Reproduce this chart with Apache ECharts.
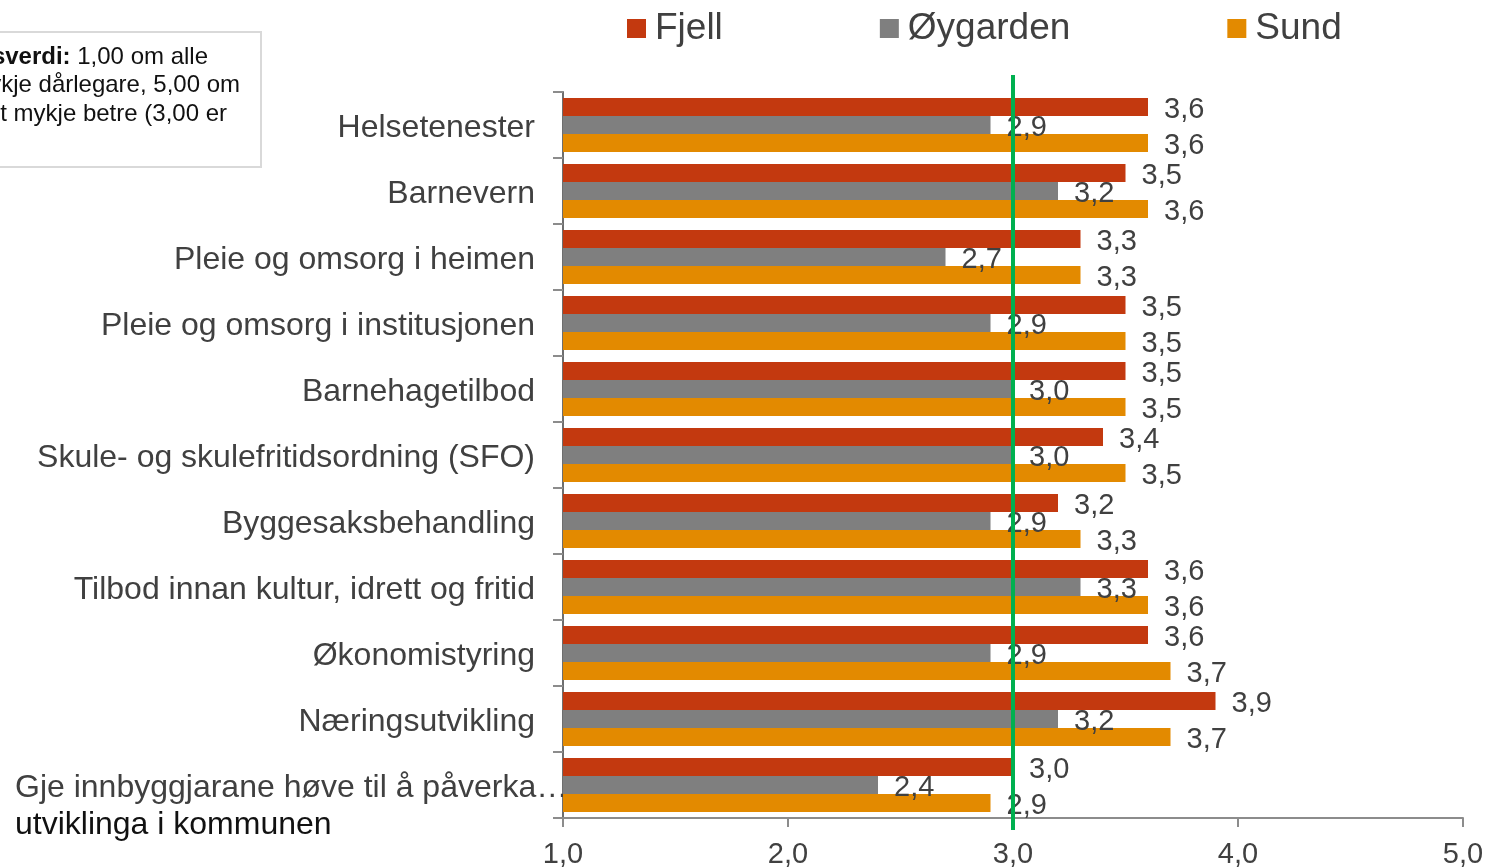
<!DOCTYPE html>
<html>
<head>
<meta charset="utf-8">
<script src="https://cdn.jsdelivr.net/npm/echarts@6/dist/echarts.min.js"></script>
<style>
html,body{margin:0;padding:0;background:#fff;}
#chart{width:1487px;height:867px;}
</style>
</head>
<body>
<div id="chart"></div>
<script>
const categories = [
  'Helsetenester',
  'Barnevern',
  'Pleie og omsorg i heimen',
  'Pleie og omsorg i institusjonen',
  'Barnehagetilbod',
  'Skule- og skulefritidsordning (SFO)',
  'Byggesaksbehandling',
  'Tilbod innan kultur, idrett og fritid',
  'Økonomistyring',
  'Næringsutvikling',
  'Gje innbyggjarane høve til å påverka…\nutviklinga i kommunen'
];
const fjell    = [3.6, 3.5, 3.3, 3.5, 3.5, 3.4, 3.2, 3.6, 3.6, 3.9, 3.0];
const oygarden = [2.9, 3.2, 2.7, 2.9, 3.0, 3.0, 2.9, 3.3, 2.9, 3.2, 2.4];
const sund     = [3.6, 3.6, 3.3, 3.5, 3.5, 3.5, 3.3, 3.6, 3.7, 3.7, 2.9];
const seriesNames = ['Fjell', 'Øygarden', 'Sund'];
const xTicks = [1, 2, 3, 4, 5];
const refValue = 3.0;
const noteLines = ['Gjennomsnittsverdi:', ' 1,00 om alle', 'mykje dårlegare, 5,00 om', 'blitt mykje betre (3,00 er'];

const colors = ['#c3390f', '#7f7f7f', '#e38a00'];
const fmt = v => v.toFixed(1).replace('.', ',');
const FONT = '"Liberation Sans", Arial, sans-serif';

const chart = echarts.init(document.getElementById('chart'), null, {renderer: 'canvas'});

function barSeries(name, data, color) {
  return {
    name: name, type: 'bar', data: data,
    xAxisIndex: 0, yAxisIndex: 0,
    barGap: '0%', barCategoryGap: '18%',
    itemStyle: {color: color},
    label: {
      show: true, position: 'right', distance: 16, offset: [0, 3],
      formatter: p => fmt(p.value),
      fontFamily: FONT, fontSize: 29, color: '#404040'
    },
    z: 2
  };
}

const yData = categories.map(c => {
  if (c.indexOf('\n') >= 0) {
    return {value: c, textStyle: {padding: [43, 0, 0, 0]}};
  }
  return c;
});

const option = {
  backgroundColor: '#fff',
  animation: false,
  legend: {
    data: seriesNames,
    left: 627, top: 10, padding: 0,
    itemWidth: 19, itemHeight: 19, itemGap: 157,
    icon: 'rect',
    textStyle: {fontFamily: FONT, fontSize: 37, color: '#404040', padding: [0, 0, 0, 4]}
  },
  grid: [
    {left: 563, right: 24, top: 92, bottom: 49, containLabel: false, outerBoundsMode: 'none'},
    {left: 563, right: 24, top: 75, bottom: 37, containLabel: false, outerBoundsMode: 'none'}
  ],
  xAxis: [
    {
      type: 'value', gridIndex: 0, min: xTicks[0], max: xTicks[xTicks.length - 1], interval: 1,
      axisLine: {show: true, lineStyle: {color: '#8c8c8c', width: 2}},
      axisTick: {show: true, length: 9, lineStyle: {color: '#8c8c8c', width: 2}},
      splitLine: {show: false},
      axisLabel: {formatter: v => fmt(v), fontFamily: FONT, fontSize: 29, color: '#404040', margin: 22}
    },
    {type: 'value', gridIndex: 1, min: xTicks[0], max: xTicks[xTicks.length - 1], show: false}
  ],
  yAxis: [
    {
      type: 'category', gridIndex: 0, inverse: true, data: yData,
      axisLine: {show: true, lineStyle: {color: '#6e6e6e', width: 2}},
      axisTick: {show: true, length: 10, lineStyle: {color: '#8c8c8c', width: 2}},
      axisLabel: {
        fontFamily: FONT, fontSize: 32, color: '#404040', margin: 28, padding: [6, 0, 0, 0],
        formatter: function (v) {
          if (v.indexOf('\n') >= 0) {
            const p = v.split('\n');
            return '{a|' + p[0] + '}\n{b|' + p[1] + '}';
          }
          return v;
        },
        rich: {
          a: {fontFamily: FONT, fontSize: 32, color: '#404040', width: 520, align: 'left', lineHeight: 37},
          b: {fontFamily: FONT, fontSize: 32, color: '#111111', width: 520, align: 'left', lineHeight: 37}
        }
      }
    },
    {type: 'value', gridIndex: 1, min: 0, max: 1, show: false}
  ],
  series: [
    barSeries(seriesNames[0], fjell, colors[0]),
    barSeries(seriesNames[1], oygarden, colors[1]),
    barSeries(seriesNames[2], sund, colors[2]),
    {
      name: 'ref', type: 'line', xAxisIndex: 1, yAxisIndex: 1,
      data: [[refValue, 0], [refValue, 1]],
      symbol: 'none', lineStyle: {color: '#00b050', width: 4},
      z: 5, silent: true
    }
  ],
  graphic: [
    {
      type: 'rect', left: -5, top: 31, z: 10,
      shape: {width: 265, height: 135},
      style: {fill: '#fff', stroke: '#d9d9d9', lineWidth: 2}
    },
    {
      type: 'text', z: 11, x: 208, y: 57,
      style: {
        text: '{b|' + noteLines[0] + '}{n|' + noteLines[1] + '}',
        align: 'right', verticalAlign: 'middle',
        rich: {
          b: {fontFamily: FONT, fontSize: 24, fontWeight: 'bold', fill: '#111'},
          n: {fontFamily: FONT, fontSize: 24, fill: '#111'}
        }
      }
    },
    {
      type: 'text', z: 11, x: 240, y: 85,
      style: {text: noteLines[2], align: 'right', verticalAlign: 'middle', font: '24px ' + FONT, fill: '#111'}
    },
    {
      type: 'text', z: 11, x: 227, y: 114,
      style: {text: noteLines[3], align: 'right', verticalAlign: 'middle', font: '24px ' + FONT, fill: '#111'}
    }
  ]
};
chart.setOption(option);
</script>
</body>
</html>
